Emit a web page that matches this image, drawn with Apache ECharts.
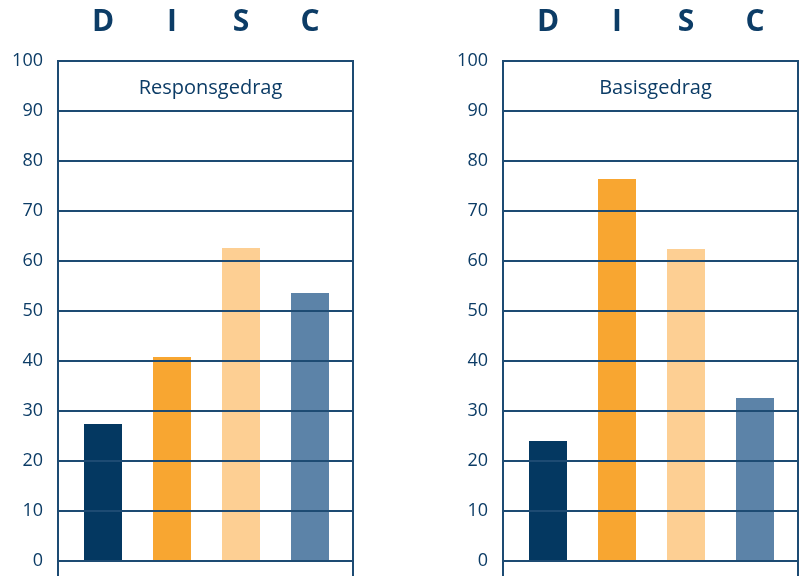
<!DOCTYPE html>
<html><head><meta charset="utf-8">
<script src="https://cdn.jsdelivr.net/npm/echarts@6/dist/echarts.min.js"></script>
<style>html,body{margin:0;padding:0;overflow:hidden;background:#fff;width:801px;height:576px}#c{width:801px;height:640px}</style>
</head><body><div id="c"></div>
<script>
const categories = ['D', 'I', 'S', 'C'];
const responsValues = [27.4, 40.8, 62.6, 53.6];
const basisValues = [24.0, 76.4, 62.4, 32.6];
const titles = ['Responsgedrag', 'Basisgedrag'];
const barColors = ['#043861', '#f8a631', '#fdcf93', '#5c83a8'];

const navy = '#0c3c66';
const lineCol = '#1d4b73';
const font = 'Open Sans';

const chart = echarts.init(document.getElementById('c'), null, {renderer: 'canvas'});

const frames = [{left: 58, width: 295}, {left: 503, width: 295}];
const gTop = 61, gHeight = 550;

const grids = [], xAxes = [], yAxes = [], series = [], titleArr = [];
frames.forEach((f, i) => {
  grids.push({left: f.left, width: f.width, top: gTop, height: gHeight, show: true,
    borderColor: lineCol, borderWidth: 2, backgroundColor: 'transparent'});
  grids.push({left: f.left + 10.5, width: 276, top: gTop, height: gHeight});
  const fi = i * 2, bi = i * 2 + 1;
  xAxes.push({gridIndex: fi, type: 'category', data: categories, show: false});
  xAxes.push({gridIndex: bi, type: 'category', data: categories, position: 'top',
    axisLine: {show: false}, axisTick: {show: false},
    axisLabel: {margin: 24, color: navy, fontSize: 30, fontWeight: 'bold', fontFamily: font}});
  yAxes.push({gridIndex: fi, type: 'value', min: -10, max: 100, interval: 10, z: 5,
    axisLine: {show: false}, axisTick: {show: false},
    axisLabel: {margin: 15, color: navy, fontSize: 18, fontFamily: font,
      formatter: v => v < 0 ? '' : String(v)},
    splitLine: {lineStyle: {color: lineCol, width: 2}}});
  yAxes.push({gridIndex: bi, type: 'value', min: -10, max: 100, interval: 10, show: false,
    splitLine: {show: false}});
  const vals = i === 0 ? responsValues : basisValues;
  series.push({type: 'bar', xAxisIndex: bi, yAxisIndex: bi, barWidth: 38, z: 2,
    data: vals.map((v, k) => ({value: v, itemStyle: {color: barColors[k]}}))});
  titleArr.push({text: titles[i], left: f.left + f.width / 2, textAlign: 'center', top: 73,
    textStyle: {color: navy, fontSize: 20, fontWeight: 'normal', fontFamily: font}});
});

chart.setOption({
  animation: false,
  title: titleArr,
  grid: grids,
  xAxis: xAxes,
  yAxis: yAxes,
  series: series
});
</script></body></html>
